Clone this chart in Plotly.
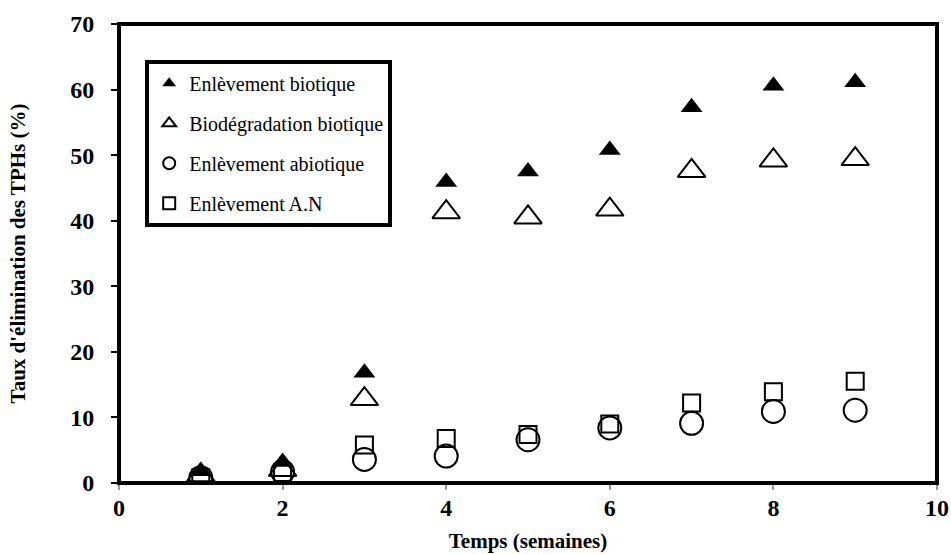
import plotly.graph_objects as go

# Weeks of treatment
weeks = [1, 2, 3, 4, 5, 6, 7, 8, 9]

# TPH removal rates (%)
enlevement_biotique = [1.8, 3.2, 16.8, 45.9, 47.5, 50.8, 57.3, 60.6, 61.1]
biodegradation_biotique = [1.2, 2.0, 12.8, 41.3, 40.5, 41.7, 47.6, 49.2, 49.4]
enlevement_abiotique = [0.8, 1.7, 3.6, 4.1, 6.6, 8.4, 9.1, 10.9, 11.1]
enlevement_an = [0.8, 1.6, 5.8, 6.8, 7.4, 9.0, 12.2, 13.9, 15.5]

x_ticks = [0, 2, 4, 6, 8, 10]
y_ticks = [0, 10, 20, 30, 40, 50, 60, 70]

serif = "Liberation Serif, Times New Roman, serif"

fig = go.Figure()

# drawn bottom-up so the filled triangles sit on top; legendrank sets legend order
fig.add_trace(go.Scatter(
    x=weeks, y=enlevement_an, mode="markers", name="Enlèvement A.N",
    legendgroup="d", legendrank=4,
    marker=dict(symbol="square-open", size=17, color="black", line=dict(width=2))))
fig.add_trace(go.Scatter(
    x=weeks, y=enlevement_abiotique, mode="markers", name="Enlèvement abiotique",
    legendgroup="c", legendrank=3,
    marker=dict(symbol="circle-open", size=23, color="black", line=dict(width=2))))
fig.add_trace(go.Scatter(
    x=weeks, y=biodegradation_biotique, mode="markers", name="Biodégradation biotique",
    legendgroup="b", legendrank=2,
    marker=dict(symbol="triangle-up-open", size=24, color="black", line=dict(width=2))))
fig.add_trace(go.Scatter(
    x=weeks, y=enlevement_biotique, mode="markers", name="Enlèvement biotique",
    legendgroup="a", legendrank=1,
    marker=dict(symbol="triangle-up", size=19, color="black", line=dict(width=0))))

fig.update_layout(
    width=951, height=554,
    margin=dict(l=119, r=14, t=24, b=71, autoexpand=False),
    paper_bgcolor="white", plot_bgcolor="white",
    font=dict(family=serif, color="black"),
    showlegend=True,
    legend=dict(
        x=0.032, y=0.922, xanchor="left", yanchor="top",
        bgcolor="white", bordercolor="black", borderwidth=4,
        font=dict(family=serif, size=20, color="black"),
        traceorder="grouped", tracegroupgap=11,
        itemsizing="constant", itemwidth=30,
    ),
    xaxis=dict(
        range=[0, 10], tickvals=x_ticks, ticktext=[str(v) for v in x_ticks],
        showgrid=False, zeroline=False, automargin=False,
        showline=True, linecolor="#888888", linewidth=2,
        ticks="outside", ticklen=5, tickwidth=2, tickcolor="#999999",
        ticklabelstandoff=-3,
        tickfont=dict(family=serif, size=24, color="black", weight="bold"),
        title=dict(text="<b>Temps (semaines)</b>", standoff=14,
                   font=dict(family=serif, size=21, color="#000000")),
    ),
    yaxis=dict(
        range=[0, 70], tickvals=y_ticks, ticktext=[str(v) for v in y_ticks],
        showgrid=False, zeroline=False, showline=False, automargin=False,
        ticks="outside", ticklen=7, tickwidth=2, tickcolor="black",
        ticklabelstandoff=12,
        tickfont=dict(family=serif, size=24, color="black", weight="bold"),
        title=dict(text="<b>Taux d'élimination des TPHs (%)</b>", standoff=38,
                   font=dict(family=serif, size=21, color="#000000")),
    ),
    shapes=[dict(type="rect", xref="paper", yref="paper", x0=0, y0=0, x1=1, y1=1,
                 line=dict(color="black", width=4), layer="above")],
)

fig.write_html("out.html")
